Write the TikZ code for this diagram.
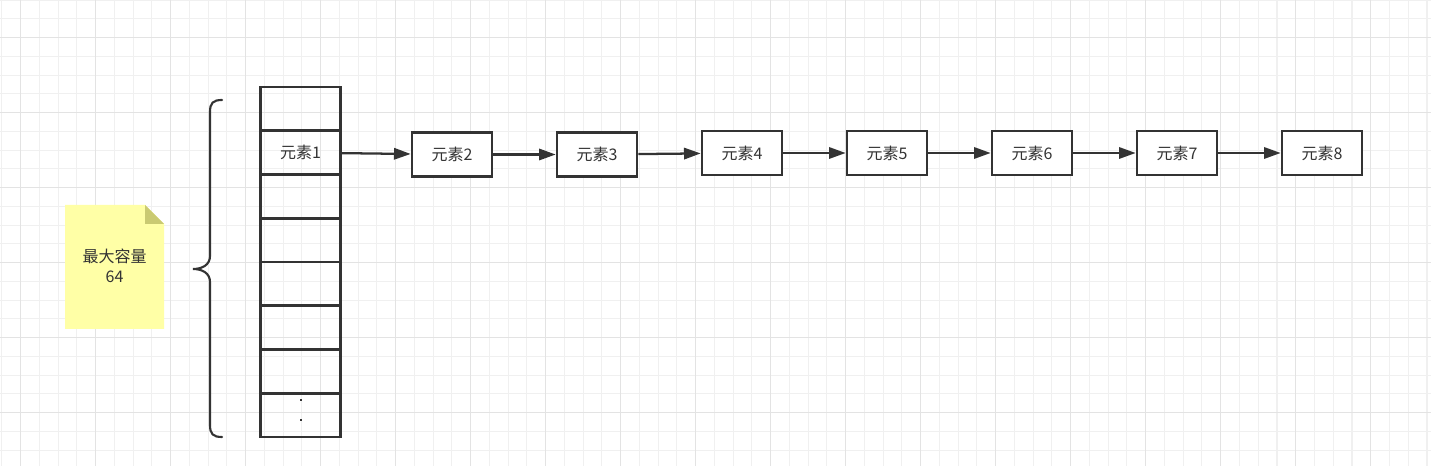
\documentclass[tikz,border=0pt]{standalone}
\usepackage{fontspec}
\setmainfont{Noto Sans CJK SC}
\usepackage{tikz}
\usetikzlibrary{positioning,arrows.meta,shapes}

\definecolor{inkgray}{HTML}{333333}
\definecolor{gridminor}{HTML}{F0F0F0}
\definecolor{gridmajor}{HTML}{E3E3E3}
\definecolor{notefill}{HTML}{FFFFA6}
\definecolor{notefold}{HTML}{CACA72}

\tikzset{
  cellbox/.style={draw=inkgray, line width=2pt, minimum width=60pt, minimum height=32.8pt, inner sep=0pt},
  elembox/.style={draw=inkgray, line width=2pt, fill=white, minimum width=60pt, minimum height=33pt, inner sep=0pt},
  link/.style={draw=inkgray, line width=1.7pt, -{Triangle[length=12.5pt,width=8.5pt]}}
}

\begin{document}
\begin{tikzpicture}[x=0.75pt, y=-0.75pt,
    every node/.append style={font=\fontsize{12pt}{14pt}\selectfont, text=inkgray}]
  \useasboundingbox (0,0) rectangle (1431,466);
  \fill[white] (0,0) rectangle (1431,466);
  % grid
  \foreach \k in {-1,...,75} \draw[gridminor, line width=0.8pt] ({20.7+18.75*\k},0) -- ({20.7+18.75*\k},466);
  \foreach \k in {-2,...,22} \draw[gridminor, line width=0.8pt] (0,{37.7+18.75*\k}) -- (1431,{37.7+18.75*\k});
  \foreach \k in {0,...,18} \draw[gridmajor, line width=0.8pt] ({20.7+75*\k},0) -- ({20.7+75*\k},466);
  \foreach \k in {0,...,5} \draw[gridmajor, line width=0.8pt] (0,{37.7+75*\k}) -- (1431,{37.7+75*\k});

  % note
  \fill[notefill] (65,205) -- (145,205) -- (164,224) -- (164,329) -- (65,329) -- cycle;
  \fill[notefold] (145,205) -- (145,224) -- (164,224) -- cycle;
  \node[align=center, font=\fontsize{12pt}{15pt}\selectfont] (capacity) at (114.5,266) {最大容量\\64};

  % brace
  \draw[inkgray, line width=1.6pt, line cap=round]
    (222,100) .. controls (213,100) and (210,103) .. (210,112) -- (210,256)
    .. controls (210,265) and (202,269) .. (193,269)
    .. controls (202,269) and (210,273) .. (210,282) -- (210,425)
    .. controls (210,434) and (213,437) .. (222,437);

  % table
  \foreach \i/\txt in {1/,2/元素1,3/,4/,5/,6/,7/,8/}
    \node[cellbox] (cell\i) at (300.5,{87+43.75*(\i-0.5)}) {\txt};
  \fill[inkgray] (300,399) rectangle (302,401);
  \fill[inkgray] (300,419) rectangle (302,421);

  % chain
  \foreach \i/\y in {2/154.5,3/154.5,4/153,5/153,6/153,7/153,8/153}
    \node[elembox] (el\i) at ({452+145*(\i-2)},\y) {元素\i};
  \draw[link] (cell2) -- (el2);
  \foreach \a/\b in {2/3,3/4,4/5,5/6,6/7,7/8}
    \draw[link] (el\a) -- (el\b);
\end{tikzpicture}
\end{document}
